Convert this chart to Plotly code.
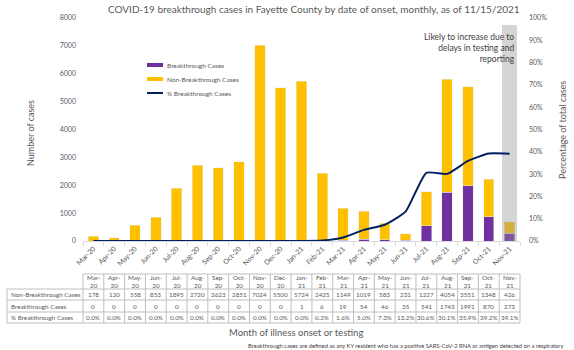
import plotly.graph_objects as go

months = ['Mar-20', 'Apr-20', 'May-20', 'Jun-20', 'Jul-20', 'Aug-20', 'Sep-20', 'Oct-20',
          'Nov-20', 'Dec-20', 'Jan-21', 'Feb-21', 'Mar-21', 'Apr-21', 'May-21', 'Jun-21',
          'Jul-21', 'Aug-21', 'Sep-21', 'Oct-21', 'Nov-21']
non_breakthrough = [178, 120, 558, 853, 1895, 2720, 2623, 2851, 7024, 5500, 5724, 2425,
                    1149, 1019, 583, 231, 1227, 4054, 3551, 1348, 426]
breakthrough = [0, 0, 0, 0, 0, 0, 0, 0, 0, 0, 1, 6, 19, 54, 46, 35, 541, 1743, 1991, 870, 273]
pct_breakthrough = [0.0, 0.0, 0.0, 0.0, 0.0, 0.0, 0.0, 0.0, 0.0, 0.0, 0.0, 0.2, 1.6, 5.0,
                    7.3, 13.2, 30.6, 30.1, 35.9, 39.2, 39.1]
highlight_months = ['Nov-21']
highlight_level = [0.97]

series_names = ['Breakthrough Cases', 'Non-Breakthrough Cases', '% Breakthrough Cases']
row_labels = ['Non-Breakthrough Cases', 'Breakthrough Cases', '% Breakthrough Cases']

FONT = 'Lato'
GREY = '#595959'
PURPLE = '#7030A0'
YELLOW = '#FFC000'
NAVY = '#002060'

# pixel geometry helpers
W, H = 574, 350
L, R, T, B = 83, 54, 18, 109
PW, PH = W - L - R, H - T - B


def px_x(p):
    return (p - L) / PW


def px_y(p):
    return (H - B - p) / PH


fig = go.Figure()
fig.add_trace(go.Bar(x=months, y=breakthrough, name=series_names[0], marker_color=PURPLE,
                     yaxis='y'))
fig.add_trace(go.Bar(x=months, y=non_breakthrough, name=series_names[1], marker_color=YELLOW,
                     yaxis='y'))
fig.add_trace(go.Bar(x=highlight_months, y=highlight_level, yaxis='y2', width=0.72,
                     marker=dict(color='rgba(150,150,150,0.4)', line_width=0),
                     showlegend=False, hoverinfo='skip'))
fig.add_trace(go.Scatter(x=months, y=[v / 100 for v in pct_breakthrough], yaxis='y2',
                         name=series_names[2], mode='lines',
                         line=dict(color=NAVY, width=2, shape='spline', smoothing=0.5)))

n = len(months)
fig.update_layout(
    width=W, height=H,
    margin=dict(l=L, r=R, t=T, b=B),
    paper_bgcolor='white', plot_bgcolor='white',
    barmode='stack', bargap=0.5,
    showlegend=False,
    font=dict(family=FONT, color=GREY, size=7),
    xaxis=dict(type='category', range=[-0.5, n - 0.5], showgrid=False,
               showline=True, linecolor='#D9D9D9', linewidth=1,
               ticks='outside', ticklen=4, tickcolor='#D9D9D9', tickson='boundaries',
               tickangle=-45, tickfont=dict(size=7, color=GREY, family=FONT)),
    yaxis=dict(range=[0, 8000], dtick=1000, showgrid=False, zeroline=False,
               showline=False, tickfont=dict(size=7, color=GREY, family=FONT),
               ticklabelstandoff=6),
    yaxis2=dict(range=[0, 1], dtick=0.1, tickformat='.0%', overlaying='y', side='right',
                showgrid=False, zeroline=False, showline=False,
                tickfont=dict(size=7, color=GREY, family=FONT), ticklabelstandoff=8),
)

ann = []
shapes = []

# title
ann.append(dict(text='COVID-19 breakthrough cases in Fayette County by date of onset, monthly, as of 11/15/2021',
                xref='paper', yref='paper', x=px_x(314), y=px_y(1), showarrow=False,
                font=dict(size=10, color=GREY, family=FONT), xanchor='center', yanchor='top'))
# axis titles
ann.append(dict(text='Number of cases', xref='paper', yref='paper', x=px_x(30), y=px_y(133),
                xanchor='center', yanchor='middle',
                textangle=-90, showarrow=False, font=dict(size=9, color=GREY, family=FONT)))
ann.append(dict(text='Percentage of total cases', xref='paper', yref='paper', x=px_x(562),
                y=px_y(130), xanchor='center', yanchor='middle', textangle=-90, showarrow=False,
                font=dict(size=9, color=GREY, family=FONT)))
# note in plot
ann.append(dict(text='Likely to increase due to<br>delays in testing and<br>reporting', xref='paper',
                yref='paper', x=px_x(517), y=px_y(48), xanchor='right', yanchor='middle',
                align='right', showarrow=False,
                font=dict(size=8.5, color='#404040', family=FONT)))

# custom legend
leg_colors = [PURPLE, YELLOW, NAVY]
leg_y = [65, 79, 93]
for name, col, yy in zip(series_names, leg_colors, leg_y):
    if col == NAVY:
        shapes.append(dict(type='line', xref='paper', yref='paper', x0=px_x(147), x1=px_x(163),
                           y0=px_y(yy), y1=px_y(yy), line=dict(color=col, width=2)))
    else:
        shapes.append(dict(type='rect', xref='paper', yref='paper', x0=px_x(147), x1=px_x(163),
                           y0=px_y(yy - 2), y1=px_y(yy + 2), fillcolor=col, line_width=0))
    ann.append(dict(text=name, xref='paper', yref='paper', x=px_x(165), y=px_y(yy),
                    xanchor='left', yanchor='middle', showarrow=False,
                    font=dict(size=6.5, color=GREY, family=FONT)))

# data table
y_head_top, y_r1, y_r2, y_r3, y_bot = 274, 289, 300, 312, 323
left_edge = 7
line_col = '#BFBFBF'
for k in range(n + 1):
    xp = k / n
    shapes.append(dict(type='line', xref='paper', yref='paper', x0=xp, x1=xp,
                       y0=px_y(y_head_top), y1=px_y(y_bot), line=dict(color=line_col, width=1)))
shapes.append(dict(type='line', xref='paper', yref='paper', x0=px_x(left_edge), x1=px_x(left_edge),
                   y0=px_y(y_r1), y1=px_y(y_bot), line=dict(color=line_col, width=1)))
shapes.append(dict(type='line', xref='paper', yref='paper', x0=0, x1=1,
                   y0=px_y(y_head_top), y1=px_y(y_head_top), line=dict(color=line_col, width=1)))
for yy in [y_r1, y_r2, y_r3, y_bot]:
    shapes.append(dict(type='line', xref='paper', yref='paper', x0=px_x(left_edge), x1=1,
                       y0=px_y(yy), y1=px_y(yy), line=dict(color=line_col, width=1)))

row_centers = [(y_r1 + y_r2) / 2, (y_r2 + y_r3) / 2, (y_r3 + y_bot) / 2]
for lbl, yc in zip(row_labels, row_centers):
    ann.append(dict(text=lbl, xref='paper', yref='paper', x=px_x(left_edge + 2), y=px_y(yc),
                    xanchor='left', yanchor='middle', showarrow=False,
                    font=dict(size=6.3, color=GREY, family=FONT)))

for i, m in enumerate(months):
    a, b = m.split('-')
    ann.append(dict(text=a + '-<br>' + b, xref='x', yref='paper', x=m,
                    y=px_y((y_head_top + y_r1) / 2), xanchor='center', yanchor='middle',
                    showarrow=False, font=dict(size=6.3, color=GREY, family=FONT)))
    vals = [str(non_breakthrough[i]), str(breakthrough[i]), f'{pct_breakthrough[i]:.1f}%']
    for v, yc in zip(vals, row_centers):
        ann.append(dict(text=v, xref='x', yref='paper', x=m, y=px_y(yc), xanchor='center',
                        yanchor='middle', showarrow=False,
                        font=dict(size=6.3, color=GREY, family=FONT)))

# bottom axis caption and footnote
ann.append(dict(text='Month of illness onset or testing', xref='paper', yref='paper',
                x=px_x(296), y=px_y(332), showarrow=False, xanchor='center', yanchor='middle',
                font=dict(size=9.5, color=GREY, family=FONT)))
ann.append(dict(text='Breakthrough cases are defined as any KY resident who has a positive SARS-CoV-2 RNA or antigen detected on a respiratory',
                xref='paper', yref='paper', x=px_x(246), y=px_y(345), showarrow=False,
                xanchor='left', yanchor='middle',
                font=dict(size=5.8, color='#404040', family=FONT)))

fig.update_layout(annotations=ann, shapes=shapes)
fig.write_html('out.html')
